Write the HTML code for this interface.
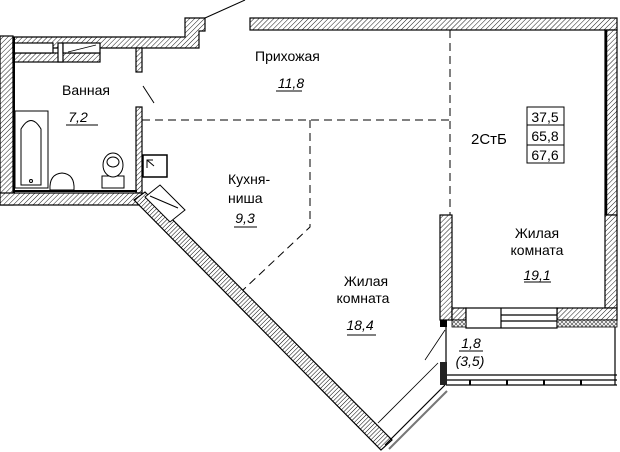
<!DOCTYPE html>
<html><head><meta charset="utf-8"><style>
html,body{margin:0;padding:0;background:#fff;}
svg{display:block;}
text{font-family:"Liberation Sans",sans-serif;fill:#000;}
.it{font-style:italic;}
</style></head><body>
<svg width="620" height="452" viewBox="0 0 620 452" xmlns="http://www.w3.org/2000/svg">
<defs>
<pattern id="h" width="3.5" height="3.5" patternUnits="userSpaceOnUse" patternTransform="rotate(45)">
<rect width="3.5" height="3.5" fill="#fff"/><line x1="0" y1="0" x2="0" y2="3.5" stroke="#000" stroke-width="0.9"/>
</pattern>
<pattern id="d" width="3" height="3" patternUnits="userSpaceOnUse" patternTransform="rotate(45)">
<rect width="3" height="3" fill="#fff"/><line x1="0" y1="0" x2="0" y2="3" stroke="#000" stroke-width="1"/>
</pattern>
<pattern id="x" width="4" height="4" patternUnits="userSpaceOnUse">
<rect width="4" height="4" fill="#fff"/><path d="M0 0L4 4M4 0L0 4" stroke="#555" stroke-width="0.7"/>
</pattern>
</defs>
<g stroke="#000" stroke-width="1.2" fill="url(#h)">
<rect x="0" y="36" width="13" height="169"/>
<polygon points="13,37 185,37 185,18 205,18 205,31 199,31 199,48 13,48"/>
<rect x="13" y="53" width="87" height="9"/>
<rect x="13" y="43" width="40" height="10" fill="#fff"/>
<rect x="58" y="43" width="5" height="19" fill="#fff"/>
<rect x="63" y="43" width="37" height="10" fill="#fff"/>
<rect x="136" y="48" width="6" height="24"/>
<rect x="136" y="107" width="6" height="86"/>
<rect x="0" y="193" width="142" height="12"/>
<rect x="250" y="18" width="367" height="12"/>
<rect x="605" y="30" width="12" height="185"/>
<rect x="605" y="215" width="12" height="93"/>
<rect x="440" y="215" width="12" height="105"/>
<rect x="452" y="308" width="14" height="12"/>
<rect x="557" y="308" width="60" height="12"/>
<polygon points="134,200 145,192 392,440 381,450" fill="url(#d)"/>
</g>
<line x1="606" y1="30" x2="606" y2="215" stroke="#000" stroke-width="2.5"/>
<line x1="14" y1="37" x2="14" y2="193" stroke="#000" stroke-width="2"/>
<line x1="13" y1="191" x2="137" y2="191" stroke="#000" stroke-width="2"/>
<line x1="68" y1="52" x2="96" y2="45" stroke="#000" stroke-width="0.8"/>
<line x1="205" y1="18" x2="245" y2="0" stroke="#000" stroke-width="1"/>
<line x1="143" y1="86" x2="154" y2="103" stroke="#000" stroke-width="1"/>
<g stroke="#000" stroke-width="1.2" fill="#fff">
<rect x="466" y="308" width="91" height="20"/>
<line x1="501" y1="308" x2="501" y2="328"/>
<line x1="501" y1="315" x2="557" y2="315"/>
<line x1="501" y1="321" x2="557" y2="321"/>
</g>
<rect x="452" y="320" width="14" height="7" fill="url(#x)" stroke="#000" stroke-width="0.8"/>
<rect x="557" y="320" width="60" height="7" fill="url(#x)" stroke="#000" stroke-width="0.8"/>
<g stroke="#000" fill="none" stroke-width="1.2">
<line x1="446" y1="327" x2="446" y2="385"/>
<line x1="446" y1="375" x2="617" y2="375"/>
<line x1="446" y1="380" x2="617" y2="380"/>
<line x1="446" y1="385" x2="617" y2="385"/>
<line x1="615" y1="327" x2="615" y2="385"/>
</g>
<g stroke="#000" stroke-width="2">
<line x1="470" y1="380" x2="470" y2="385"/><line x1="507" y1="380" x2="507" y2="385"/>
<line x1="544" y1="380" x2="544" y2="385"/><line x1="581" y1="380" x2="581" y2="385"/>
</g>
<rect x="440" y="320" width="7" height="7" fill="#000"/>
<rect x="440" y="362" width="7" height="23" fill="#222"/>
<line x1="445" y1="330" x2="425" y2="360" stroke="#000" stroke-width="0.8"/>
<g stroke="#000" fill="none">
<line x1="385" y1="445" x2="445" y2="385" stroke-width="1.2"/>
<line x1="389" y1="449" x2="447" y2="391" stroke="#777" stroke-width="2"/>
<line x1="378" y1="423" x2="438" y2="363" stroke-width="0.8"/>
</g>
<g stroke="#000" stroke-width="1" fill="#fff">
<polygon points="145,197 160,185 185,210 170,222"/>
<line x1="150" y1="196" x2="178" y2="208"/>
</g>
<rect x="143" y="155" width="24" height="22" fill="#fff" stroke="#000" stroke-width="1.5"/>
<path d="M147 168 L147 160 L153 160 M147 160 L154 166" stroke="#000" fill="none"/>
<g stroke="#000" stroke-width="1" fill="#fff">
<rect x="15" y="111" width="33" height="77"/>
<path d="M21 185 L21 129 Q31 112 41 129 L41 185 Z"/>
<circle cx="31" cy="181" r="1.5"/>
<path d="M50 190 Q49 174 62 173 Q75 174 74 190 Z"/>
<rect x="102" y="176" width="22" height="12"/>
<ellipse cx="113" cy="165" rx="10" ry="12"/>
<ellipse cx="113" cy="162" rx="6" ry="5"/>
</g>
<g stroke="#000" stroke-width="1" stroke-dasharray="8,5" fill="none">
<line x1="142" y1="120" x2="450" y2="120"/>
<line x1="450" y1="30" x2="450" y2="215"/>
<polyline points="310,120 310,227 243,290"/>
</g>
<text x="62" y="95" font-size="14">Ванная</text>
<text x="78" y="122" font-size="14" class="it" text-anchor="middle">7,2</text>
<line x1="66" y1="125" x2="98" y2="125" stroke="#000"/>
<text x="255" y="61" font-size="14">Прихожая</text>
<text x="291" y="88" font-size="14" class="it" text-anchor="middle">11,8</text>
<line x1="276" y1="91" x2="302" y2="91" stroke="#000"/>
<text x="228" y="184" font-size="14">Кухня-</text>
<text x="228" y="203" font-size="14">ниша</text>
<text x="245" y="223" font-size="14" class="it" text-anchor="middle">9,3</text>
<line x1="234" y1="227" x2="257" y2="227" stroke="#000"/>
<text x="366" y="286" font-size="14" text-anchor="middle">Жилая</text>
<text x="363" y="303" font-size="14" text-anchor="middle">комната</text>
<text x="360" y="330" font-size="14" class="it" text-anchor="middle">18,4</text>
<line x1="347" y1="335" x2="376" y2="335" stroke="#000"/>
<text x="537" y="238" font-size="14" text-anchor="middle">Жилая</text>
<text x="537" y="255" font-size="14" text-anchor="middle">комната</text>
<text x="537" y="280" font-size="14" class="it" text-anchor="middle">19,1</text>
<line x1="524" y1="282" x2="551" y2="282" stroke="#000"/>
<text x="471" y="348" font-size="14" class="it" text-anchor="middle">1,8</text>
<line x1="459" y1="351" x2="483" y2="351" stroke="#000"/>
<text x="470" y="366" font-size="14" class="it" text-anchor="middle">(3,5)</text>
<text x="471" y="144" font-size="15">2СтБ</text>
<g stroke="#000" fill="none"><rect x="527" y="107" width="37" height="56"/><line x1="527" y1="125" x2="564" y2="125"/><line x1="527" y1="145" x2="564" y2="145"/></g>
<text x="545" y="122" font-size="14" text-anchor="middle">37,5</text>
<text x="545" y="141" font-size="14" text-anchor="middle">65,8</text>
<text x="545" y="160" font-size="14" text-anchor="middle">67,6</text>
</svg>
</body></html>
